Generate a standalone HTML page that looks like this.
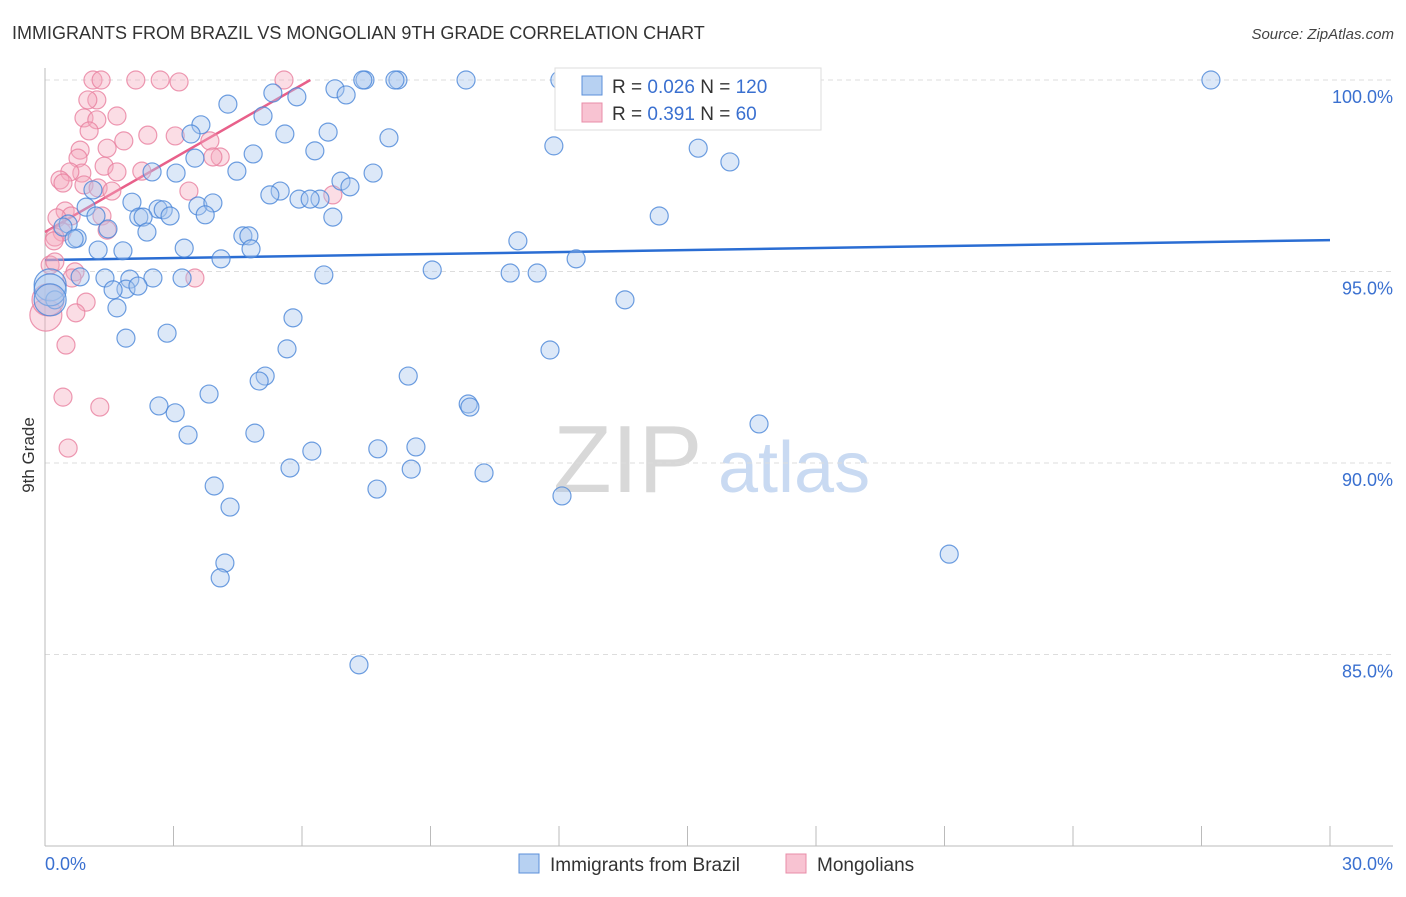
<!DOCTYPE html>
<html><head><meta charset="utf-8"><style>
body{margin:0;background:#fff;font-family:"Liberation Sans",sans-serif}
svg text{font-family:"Liberation Sans",sans-serif}
</style></head><body>
<svg id="chart" width="1406" height="892" viewBox="0 0 1406 892" xmlns="http://www.w3.org/2000/svg">
<text x="12" y="39" font-size="18" fill="#333">IMMIGRANTS FROM BRAZIL VS MONGOLIAN 9TH GRADE CORRELATION CHART</text>
<text x="1394" y="39" font-size="15" fill="#444" text-anchor="end" font-style="italic">Source: ZipAtlas.com</text>
<g>
<text x="553" y="492" font-size="96" fill="#d8d8d8" font-family="Liberation Serif,serif">ZIP</text>
<text x="718" y="492" font-size="72" fill="#c9daf2">atlas</text>
</g>
<g id="grid"></g>
<g id="axes"></g>
<g id="trends"></g>
<g id="points"></g>
<text transform="translate(34,455) rotate(-90)" font-size="17" fill="#333" text-anchor="middle">9th Grade</text>
<g>
<rect x="555" y="68" width="266" height="62" fill="#fff" stroke="#ddd"/>
<rect x="582" y="76" width="20" height="19" fill="#b7d1f2" stroke="#5b8fd9"/>
<rect x="582" y="103" width="20" height="19" fill="#f8c3d2" stroke="#e88ca8"/>
<text x="612" y="93" font-size="19" fill="#333">R = <tspan fill="#3a70d0">0.026</tspan>   N = <tspan fill="#3a70d0">120</tspan></text>
<text x="612" y="120" font-size="19" fill="#333">R =  <tspan fill="#3a70d0">0.391</tspan>   N =   <tspan fill="#3a70d0">60</tspan></text>
</g>
<g>
<rect x="519" y="854" width="20" height="19" fill="#b7d1f2" stroke="#5b8fd9"/>
<text x="550" y="871" font-size="19" fill="#333">Immigrants from Brazil</text>
<rect x="786" y="854" width="20" height="19" fill="#f8c3d2" stroke="#e88ca8"/>
<text x="817" y="871" font-size="19" fill="#333">Mongolians</text>
</g>
</svg>
<script>
const yTicks=[100,95,90,85];
const yTickLabels=["100.0%","95.0%","90.0%","85.0%"];
const xTickLabels=["0.0%","30.0%"];
const blueX=[7.47,8.24,9.83,12.02,16.23,27.22,7.42,8.17,5.32,6.77,7.03,5.88,4.27,5.09,3.64,3.41,5.60,6.61,8.03,11.88,15.25,15.99,4.86,3.50,6.30,4.48,3.06,2.50,7.66,6.91,7.12,5.49,5.25,5.93,6.42,6.19,1.12,0.96,2.03,2.64,2.76,3.57,3.92,2.92,3.74,2.19,2.29,1.19,6.72,14.34,0.54,0.42,1.47,2.38,4.62,4.76,0.75,0.68,3.25,1.24,1.82,4.81,11.04,4.11,12.40,9.04,10.86,11.49,6.51,3.20,1.40,0.82,2.52,1.98,1.89,1.59,2.17,0.12,0.23,13.54,1.68,5.79,2.85,1.89,11.79,5.65,8.48,5.14,5.00,3.83,2.66,3.04,9.88,9.92,16.67,3.34,4.90,6.23,7.77,8.66,5.72,8.55,10.25,3.95,7.75,12.07,4.32,21.11,4.20,4.09,7.33,0.12,0.12];
const blueY=[100,100,100,100,100,100,100,100,99.66,99.77,99.61,99.56,99.37,99.06,98.83,98.59,98.59,98.64,98.49,98.28,98.22,97.86,98.07,97.96,98.15,97.62,97.57,97.60,97.57,97.36,97.21,97.10,97.00,96.89,96.89,96.89,97.13,96.68,96.81,96.63,96.61,96.71,96.79,96.45,96.48,96.42,96.42,96.45,96.42,96.45,96.24,96.16,96.11,96.03,95.93,95.93,95.87,95.85,95.61,95.56,95.54,95.59,95.80,95.33,95.33,95.04,94.96,94.96,94.91,94.83,94.83,94.86,94.83,94.80,94.54,94.52,94.62,94.65,94.26,94.26,94.05,93.79,93.39,93.26,92.95,92.98,92.27,92.27,92.14,91.80,91.49,91.31,91.54,91.46,91.02,90.73,90.78,90.31,90.37,90.42,89.87,89.84,89.74,89.40,89.32,89.14,88.85,87.62,87.39,87.00,84.73,94.52,94.26];
const pinkX=[1.12,1.31,2.12,2.69,3.13,5.58,1.21,1.00,1.68,0.91,1.21,1.03,1.84,1.45,2.40,3.04,3.85,4.09,3.92,0.82,0.77,1.38,1.68,2.26,0.86,0.58,0.35,0.42,0.91,1.24,1.56,3.36,6.72,0.47,0.61,1.33,1.45,0.28,0.40,0.23,0.21,0.12,0.23,0.70,0.63,3.50,0.96,0.72,0.49,0.42,1.28,0.54,0.02,0.07];
const pinkY=[100,100,100,100,99.95,100,99.48,99.48,99.06,99.01,98.96,98.67,98.41,98.22,98.56,98.54,98.41,97.99,97.99,98.17,97.96,97.75,97.60,97.62,97.57,97.60,97.39,97.31,97.26,97.18,97.10,97.10,97.00,96.58,96.45,96.45,96.08,96.40,96.03,95.90,95.80,95.17,95.25,94.99,94.83,94.83,94.20,93.92,93.08,91.72,91.46,90.39,93.86,94.26];
const blueTrend=[95.30,95.82];
const pinkTrend=[96.03,0.641];
const NS="http://www.w3.org/2000/svg";
const X0=45,X1=1330,Y100=80,PXPER=38.3;
function sx(v){return X0+(v/30)*(X1-X0);}
function sy(v){return Y100+(100-v)*PXPER;}
function mk(tag,attrs,parent){const e=document.createElementNS(NS,tag);for(const k in attrs)e.setAttribute(k,attrs[k]);parent.appendChild(e);return e;}
const grid=document.getElementById('grid'),axes=document.getElementById('axes');
yTicks.forEach((t,i)=>{
 const l=mk('line',{x1:X0,x2:1393,y1:sy(t),y2:sy(t),stroke:'#ddd','stroke-dasharray':'5,4'},grid);
 
 
 const tx=mk('text',{x:1393,y:sy(t)+23,'font-size':18,fill:'#3a70d0','text-anchor':'end'},grid);
 tx.textContent=yTickLabels[i];
 
 
});
const ya=mk('line',{x1:X0,x2:X0,y1:68,y2:846,stroke:'#bbb'},axes);


const xa=mk('line',{x1:X0,x2:1393,y1:846,y2:846,stroke:'#bbb'},axes);


for(let k=0;k<=10;k++){
 const t=mk('line',{x1:sx(k*3),x2:sx(k*3),y1:826,y2:846,stroke:'#bbb'},axes);
 
 
}
const xl0=mk('text',{x:45,y:870,'font-size':18,fill:'#3a70d0'},axes);xl0.textContent=xTickLabels[0];


const xl1=mk('text',{x:1393,y:870,'font-size':18,fill:'#3a70d0','text-anchor':'end'},axes);xl1.textContent=xTickLabels[1];


const pts=document.getElementById('points');
function dots(xs,ys,fill,stroke,name){
 xs.forEach((x,i)=>{
  const r=(x<0.2&&ys[i]<94.7)?16:9;
  const c=mk('circle',{cx:sx(x),cy:sy(ys[i]),r:r,fill:fill,'fill-opacity':0.4,stroke:stroke,'stroke-opacity':0.8,'stroke-width':1.2},pts);
  
  
 });
}
dots(pinkX,pinkY,'#f4a9bf','#e8809f','point-mongolians');
dots(blueX,blueY,'#a7c6ee','#4a86d8','point-brazil');
const tr=document.getElementById('trends');
const bl=mk('line',{x1:sx(0),y1:sy(blueTrend[0]),x2:sx(30),y2:sy(blueTrend[1]),stroke:'#2a6dd3','stroke-width':2.5},tr);


const pxEnd=(100-pinkTrend[0])/pinkTrend[1];
const pl=mk('line',{x1:sx(0),y1:sy(pinkTrend[0]),x2:sx(pxEnd),y2:sy(100),stroke:'#e8608a','stroke-width':2.5},tr);


</script>
</body></html>
